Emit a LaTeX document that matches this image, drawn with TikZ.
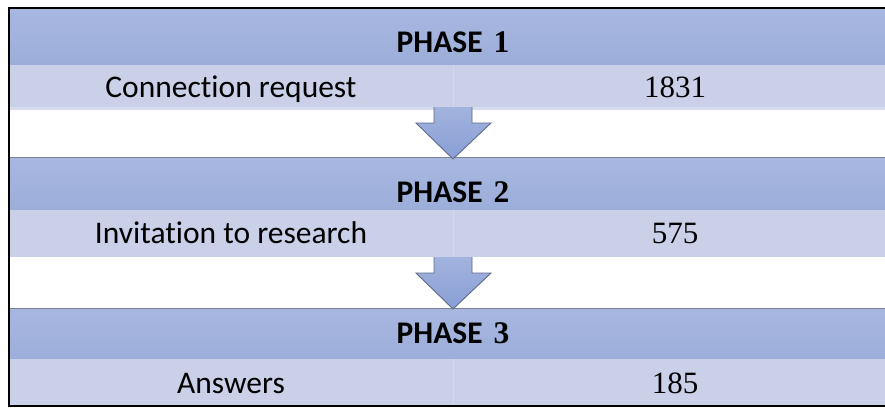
\documentclass[tikz,border=0pt]{standalone}
\usepackage{fontspec}
\usetikzlibrary{calc}
\setmainfont{Carlito}[RawFeature=-liga]
\newfontfamily\numfont{Liberation Serif}
\definecolor{hdtop}{HTML}{A8B7E0}
\definecolor{hdbot}{HTML}{9BAED9}
\definecolor{rowc}{HTML}{CAD0E8}
\definecolor{stripc}{HTML}{D6DBED}
\definecolor{arrtop}{HTML}{A3B3DE}
\definecolor{arrbot}{HTML}{889ED5}
\definecolor{arrline}{HTML}{5E6A86}
\definecolor{sepline}{HTML}{7A8296}
\definecolor{divc}{HTML}{D4D9EC}
\tikzset{
  header/.style={top color=hdtop, bottom color=hdbot, draw=none},
  rowbox/.style={fill=rowc, draw=none},
  lbl/.style={anchor=base, inner sep=0pt, font=\fontsize{31.5}{34}\selectfont},
  num/.style={anchor=base, inner sep=0pt, font=\numfont\fontsize{31}{34}\selectfont},
  phase/.style={anchor=base, inner sep=0pt, font=\bfseries\fontsize{31.5}{34}\selectfont},
  blockarrow/.style={top color=arrtop, bottom color=arrbot, draw=none},
  arrowedge/.style={draw=arrline, line width=0.9pt, line join=miter},
}
\begin{document}
\begin{tikzpicture}[x=1pt,y=-1pt]
\useasboundingbox (0,0) rectangle (885,407);
\fill[white] (0,0) rectangle (885,407);
% headers
\path[header] (9,8) rectangle (885,65);
\path[header] (9,157) rectangle (885,210);
\path[header] (9,308) rectangle (885,359);
% rows
\path[rowbox] (9,65) rectangle (885,107);
\path[fill=stripc] (9,107) rectangle (885,110);
\path[rowbox] (9,210) rectangle (885,257);
\path[rowbox] (9,359) rectangle (885,405);
% faint column dividers
\draw[divc, line width=1pt] (453,65) -- (453,107);
\draw[divc, line width=1pt] (453,210) -- (453,257);
\draw[divc, line width=1pt] (453,359) -- (453,405);
% separator lines above phase 2 and 3
\draw[sepline, line width=1pt] (9,157) -- (885,157);
\draw[sepline, line width=1pt] (9,308) -- (885,308);
% block arrows
\coordinate (a1) at (453,107);
\coordinate (a2) at (453,257);
\foreach \c in {a1,a2}{
  \path[blockarrow] ($(\c)+(-19,0)$) -- ($(\c)+(-19,16)$) -- ($(\c)+(-37,16)$) -- ($(\c)+(0,52)$) -- ($(\c)+(38,16)$) -- ($(\c)+(19,16)$) -- ($(\c)+(19,0)$) -- cycle;
  \draw[arrowedge] ($(\c)+(-19,0)$) -- ($(\c)+(-19,16)$) -- ($(\c)+(-37,16)$) -- ($(\c)+(0,52)$) -- ($(\c)+(38,16)$) -- ($(\c)+(19,16)$) -- ($(\c)+(19,0)$);
}
% outer border
\draw[black, line width=2pt] (885,8) -- (9,8) -- (9,406) -- (885,406);
% texts
\node[phase] (p1) at (453,52) {PHASE\hspace{0.35em}{\numfont 1}};
\node[lbl] (t1) at (231,97) {Connection request};
\node[num] (n1) at (675,97) {1831};
\node[phase] (p2) at (453,202) {PHASE\hspace{0.35em}{\numfont 2}};
\node[lbl] (t2) at (231,243) {Invitation to research};
\node[num] (n2) at (675,243) {575};
\node[phase] (p3) at (453,343) {PHASE\hspace{0.35em}{\numfont 3}};
\node[lbl] (t3) at (231,393) {Answers};
\node[num] (n3) at (675,393) {185};
\end{tikzpicture}
\end{document}
